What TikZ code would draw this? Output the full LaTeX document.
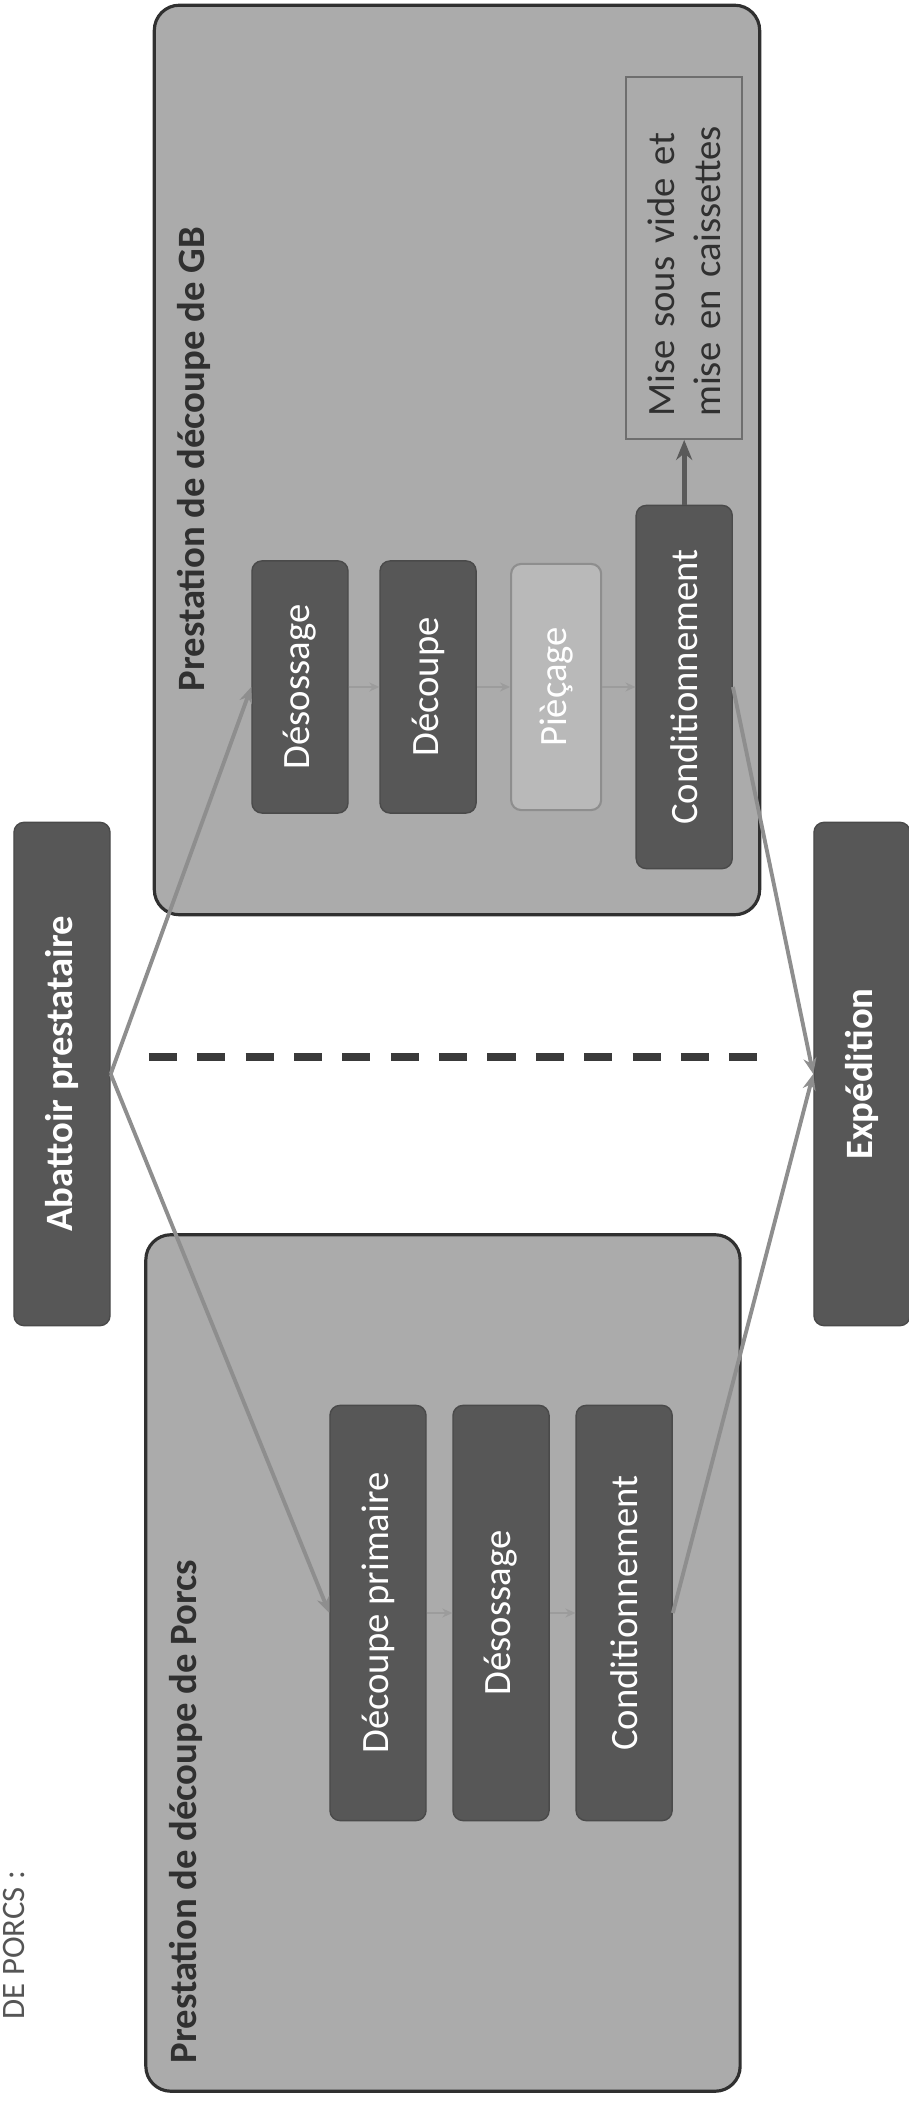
\documentclass[tikz,border=0pt]{standalone}
\usepackage{fontspec}
\setmainfont{Carlito}
\usetikzlibrary{arrows.meta}
\definecolor{panelcol}{HTML}{ABABAB}
\definecolor{framecol}{HTML}{303030}
\definecolor{stepcol}{HTML}{575757}
\definecolor{lightcol}{HTML}{B9B9B9}
\definecolor{flowcol}{HTML}{8E8E8E}
\definecolor{linkcol}{HTML}{9C9C9C}
\definecolor{pushcol}{HTML}{5A5A5A}
\definecolor{sepcol}{HTML}{3A3A3A}
\definecolor{notecol}{HTML}{555555}

\begin{document}
\begin{tikzpicture}[rotate=90, transform shape, x=0.01cm, y=0.01cm, node distance=1.23cm,
  font=\fontsize{11}{13.2}\selectfont,
  bigbox/.style={rectangle, draw=framecol, line width=0.9pt, fill=panelcol, rounded corners=0.25cm, inner sep=0pt},
  stepbox/.style={rectangle, fill=stepcol, draw=stepcol!85!black, rounded corners=0.1cm, text=white, inner sep=0pt, minimum height=0.96cm},
  lightbox/.style={rectangle, fill=lightcol, draw=flowcol, line width=0.6pt, rounded corners=0.1cm, text=white, inner sep=0pt, minimum height=0.9cm},
  endbox/.style={stepbox, font=\fontsize{11}{13.2}\selectfont\bfseries, minimum width=5.03cm},
  notebox/.style={rectangle, draw=notecol!85!white, line width=0.6pt, text=framecol, text width=3.18cm, align=left, inner xsep=0.22cm, minimum height=1.16cm},
  boxtitle/.style={anchor=base west, inner sep=0pt, text=framecol, font=\fontsize{11}{13.2}\selectfont\bfseries},
  flow/.style={-{Stealth[length=0.16cm, width=0.13cm]}, draw=flowcol, line width=1.1pt},
  link/.style={-{Stealth[length=0.1cm, width=0.09cm]}, draw=linkcol, line width=0.8pt},
  push/.style={-{Stealth[length=0.2cm, width=0.16cm]}, draw=pushcol, line width=1.4pt},
  sepline/.style={draw=sepcol, line width=2.3pt, dash pattern=on 0.28cm off 0.2033cm}]
  {
  \useasboundingbox (0,0) rectangle (2102,909);
  \node[anchor=base west, inner sep=0pt, text=notecol, font=\fontsize{9.3}{11}\selectfont] (heading) at (82,884) {DE PORCS :};

  \node[endbox] (abattoir) at (1028,847) {Abattoir prestataire};
  \node[endbox] (expe) at (1028,47) {Expédition};

  \node[bigbox, minimum width=8.56cm, minimum height=5.94cm] (porcs) at (439,466) {};
  \node[bigbox, minimum width=9.09cm, minimum height=6.05cm] (gb) at (1642,452) {};
  \node[boxtitle] (porcstitle) at (38,712) {Prestation de découpe de Porcs};
  \node[boxtitle] (gbtitle) at (1410,704) {Prestation de découpe de GB};

  \node[stepbox, minimum width=4.15cm] (pdecoupe) at (489,531) {Découpe primaire};
  \node[stepbox, minimum width=4.15cm, below of=pdecoupe] (pdesos) {Désossage};
  \node[stepbox, minimum width=4.15cm, below of=pdesos] (pcond) {Conditionnement};

  \node[stepbox, minimum width=2.52cm] (gbdesos) at (1415,609) {Désossage};
  \node[stepbox, minimum width=2.52cm, below of=gbdesos, node distance=1.28cm] (gbdecoupe) {Découpe};
  \node[lightbox, minimum width=2.46cm, below of=gbdecoupe, node distance=1.28cm] (gbpiecage) {Pièçage};
  \node[stepbox, minimum width=3.63cm, below of=gbpiecage, node distance=1.28cm] (gbcond) {Conditionnement};
  \node[notebox, right of=gbcond, node distance=4.29cm] (mise) {Mise sous vide et\\mise en caissettes};

  \coordinate (septop) at (1045,760);
  \coordinate (sepbot) at (1045,150);
  \draw[sepline] (septop) -- (sepbot);

  \draw[link] (pdecoupe) -- (pdesos);
  \draw[link] (pdesos) -- (pcond);
  \draw[link] (gbdesos) -- (gbdecoupe);
  \draw[link] (gbdecoupe) -- (gbpiecage);
  \draw[link] (gbpiecage) -- (gbcond);
  \draw[push] (gbcond) -- (mise);

  \draw[flow] (abattoir.south) -- (pdecoupe.north);
  \draw[flow] (abattoir.south) -- (gbdesos.north);
  \draw[flow] (pcond.south) -- (expe.north);
  \draw[flow] (gbcond.south) -- (expe.north);
  }
\end{tikzpicture}
\end{document}
